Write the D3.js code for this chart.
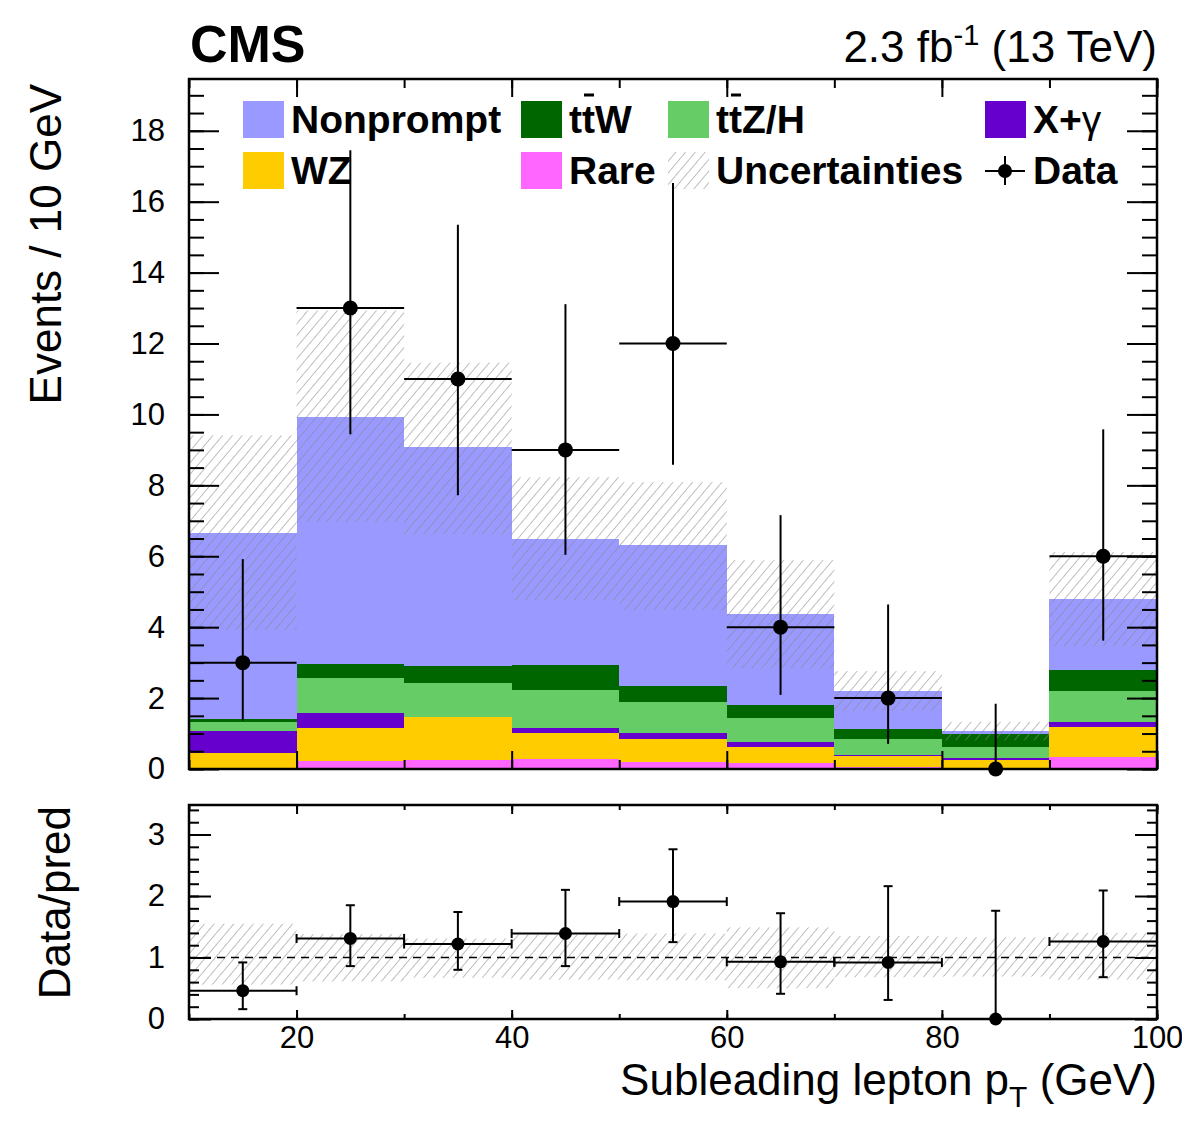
<!DOCTYPE html>
<html>
<head>
<meta charset="utf-8">
<script src="https://cdn.jsdelivr.net/npm/d3@7"></script>
<style>
  body { margin: 0; background: #fff; }
  svg { font-family: "Liberation Sans", Arial, Helvetica, sans-serif; }
</style>
</head>
<body>
<div id="chart"></div>
<script>
// bins of subleading lepton pT (GeV), low edges, width 10
var binLow = [10, 20, 30, 40, 50, 60, 70, 80, 90];
var binWidth = 10;

// stacked backgrounds, bottom to top
var rare      = [0.01, 0.23, 0.25, 0.27, 0.20, 0.16, 0.05, 0.03, 0.35];
var wz        = [0.45, 0.92, 1.21, 0.74, 0.65, 0.47, 0.32, 0.22, 0.84];
var xgamma    = [0.61, 0.43, 0.00, 0.15, 0.16, 0.13, 0.03, 0.05, 0.13];
var ttzh      = [0.26, 0.98, 0.96, 1.07, 0.88, 0.69, 0.45, 0.33, 0.88];
var ttw       = [0.08, 0.40, 0.48, 0.69, 0.45, 0.35, 0.29, 0.35, 0.59];
var nonprompt = [5.24, 6.98, 6.17, 3.58, 3.97, 2.56, 1.06, 0.09, 2.00];

// total prediction uncertainty band (absolute edges)
var uncHi = [9.41, 12.93, 11.46, 8.23, 8.09, 5.89, 2.76, 1.33, 6.12];
var uncLo = [3.92, 6.97, 6.62, 4.76, 4.48, 2.83, 1.64, 0.81, 3.46];

// observed data with error bar edges
var dataVal = [3, 13, 11, 9, 12, 4, 2, 0, 6];
var dataLo  = [1.37, 9.44, 7.72, 6.04, 8.58, 2.09, 0.71, 0, 3.62];
var dataHi  = [5.92, 17.45, 15.35, 13.11, 16.53, 7.16, 4.64, 1.84, 9.58];

// ratio panel
var ratioVal = [0.46, 1.31, 1.22, 1.39, 1.91, 0.93, 0.92, 0, 1.26];
var ratioLo  = [0.16, 0.86, 0.80, 0.86, 1.25, 0.41, 0.31, 0, 0.68];
var ratioHi  = [0.92, 1.85, 1.74, 2.10, 2.76, 1.72, 2.16, 1.76, 2.09];
var ratioUncHi = [1.55, 1.38, 1.31, 1.37, 1.39, 1.49, 1.35, 1.33, 1.40];
var ratioUncLo = [0.56, 0.61, 0.67, 0.64, 0.63, 0.50, 0.68, 0.69, 0.64];

var xTicks = [20, 40, 60, 80, 100];
var yTicks = [0, 2, 4, 6, 8, 10, 12, 14, 16, 18];
var rTicks = [0, 1, 2, 3];

var keys = ["rare", "wz", "xgamma", "ttzh", "ttw", "nonprompt"];
var colors = {
  rare: "#ff66ff", wz: "#ffcc00", xgamma: "#6600cc",
  ttzh: "#66cc66", ttw: "#006600", nonprompt: "#9999ff"
};

var svgWidth = 1182;
var svgHeight = 1121;
var left = 189, right = 1157;
var topY = 79, topB = 769;
var ratT = 805, ratB = 1019;

var svg = d3.select("#chart").append("svg")
  .attr("width", svgWidth)
  .attr("height", svgHeight);

var defs = svg.append("defs");
defs.append("pattern")
  .attr("id", "hatch")
  .attr("patternUnits", "userSpaceOnUse")
  .attr("width", 7.5)
  .attr("height", 7.5)
  .attr("patternTransform", "rotate(40)")
  .append("line")
  .attr("x1", 0).attr("y1", 0).attr("x2", 0).attr("y2", 7.5)
  .attr("stroke", "#8a8a8a")
  .attr("stroke-width", 1.1);

var x = d3.scaleLinear().domain([10, 100]).range([left, right]);
var y = d3.scaleLinear().domain([0, 19.46]).range([topB, topY]);
var yr = d3.scaleLinear().domain([0, 3.48]).range([ratB, ratT]);

// ---------- top panel: stacked histogram ----------
var table = binLow.map(function(b, i) {
  return { bin: b, rare: rare[i], wz: wz[i], xgamma: xgamma[i],
           ttzh: ttzh[i], ttw: ttw[i], nonprompt: nonprompt[i] };
});
var stacked = d3.stack().keys(keys)(table);

var stackGroup = svg.append("g").attr("shape-rendering", "crispEdges");
stackGroup.selectAll("g")
  .data(stacked)
  .enter()
  .append("g")
  .attr("fill", function(s) { return colors[s.key]; })
  .selectAll("rect")
  .data(function(s) { return s; })
  .enter()
  .append("rect")
  .attr("x", function(d) { return x(d.data.bin); })
  .attr("width", function(d) { return x(d.data.bin + binWidth) - x(d.data.bin); })
  .attr("y", function(d) { return y(d[1]); })
  .attr("height", function(d) { return y(d[0]) - y(d[1]); });

// uncertainty hatch
svg.append("g").selectAll("rect")
  .data(binLow)
  .enter()
  .append("rect")
  .attr("x", function(b) { return x(b); })
  .attr("width", function(b) { return x(b + binWidth) - x(b); })
  .attr("y", function(b, i) { return y(uncHi[i]); })
  .attr("height", function(b, i) { return y(uncLo[i]) - y(uncHi[i]); })
  .attr("fill", "url(#hatch)");

// data points
var dataGroup = svg.append("g").attr("stroke", "#000").attr("stroke-width", 2);
binLow.forEach(function(b, i) {
  var cx = x(b + binWidth / 2);
  if (dataVal[i] > 0) {
    dataGroup.append("line")
      .attr("x1", x(b)).attr("x2", x(b + binWidth))
      .attr("y1", y(dataVal[i])).attr("y2", y(dataVal[i]));
  }
  dataGroup.append("line")
    .attr("x1", cx).attr("x2", cx)
    .attr("y1", y(dataLo[i])).attr("y2", y(dataHi[i]));
  dataGroup.append("circle")
    .attr("cx", cx).attr("cy", y(dataVal[i]))
    .attr("r", 7.5).attr("fill", "#000").attr("stroke", "none");
});

// ---------- ratio panel ----------
svg.append("g").selectAll("rect")
  .data(binLow)
  .enter()
  .append("rect")
  .attr("x", function(b) { return x(b); })
  .attr("width", function(b) { return x(b + binWidth) - x(b); })
  .attr("y", function(b, i) { return yr(ratioUncHi[i]); })
  .attr("height", function(b, i) { return yr(ratioUncLo[i]) - yr(ratioUncHi[i]); })
  .attr("fill", "url(#hatch)");

svg.append("line")
  .attr("x1", left).attr("x2", right)
  .attr("y1", yr(1)).attr("y2", yr(1))
  .attr("stroke", "#000")
  .attr("stroke-width", 1.6)
  .attr("stroke-dasharray", "8,6");

var ratioGroup = svg.append("g").attr("stroke", "#000").attr("stroke-width", 2);
binLow.forEach(function(b, i) {
  var cx = x(b + binWidth / 2);
  var cy = yr(ratioVal[i]);
  if (ratioVal[i] > 0) {
    ratioGroup.append("line")
      .attr("x1", x(b)).attr("x2", x(b + binWidth))
      .attr("y1", cy).attr("y2", cy);
    [x(b), x(b + binWidth)].forEach(function(px) {
      ratioGroup.append("line")
        .attr("x1", px).attr("x2", px)
        .attr("y1", cy - 4.5).attr("y2", cy + 4.5);
    });
  }
  ratioGroup.append("line")
    .attr("x1", cx).attr("x2", cx)
    .attr("y1", yr(ratioLo[i])).attr("y2", yr(ratioHi[i]));
  [ratioLo[i], ratioHi[i]].forEach(function(v) {
    if (v > 0) {
      ratioGroup.append("line")
        .attr("x1", cx - 4.5).attr("x2", cx + 4.5)
        .attr("y1", yr(v)).attr("y2", yr(v));
    }
  });
  ratioGroup.append("circle")
    .attr("cx", cx).attr("cy", cy)
    .attr("r", 6.5).attr("fill", "#000").attr("stroke", "none");
});

// ---------- axes and frames ----------
function styleAxis(g) {
  g.select(".domain").remove();
  g.selectAll("line").attr("stroke", "#000").attr("stroke-width", 2);
  g.selectAll("text")
    .attr("font-family", "Liberation Sans, Arial, sans-serif")
    .attr("font-size", 31)
    .attr("fill", "#000");
}

function range(a, b, step) {
  var out = [];
  for (var v = a; v <= b + 1e-9; v += step) out.push(+v.toFixed(4));
  return out;
}

function addAxes(yScale, yTop, yBot, yMajorVals, yMinorVals, yMaj, yMin, xMaj, xMin, showX) {
  var xMinorVals = range(10, 100, 10);
  var xMajorVals = xTicks;

  // bottom
  var gb = svg.append("g").attr("transform", "translate(0," + yBot + ")");
  gb.call(d3.axisBottom(x).tickValues(xMinorVals).tickSize(-xMin).tickFormat(""));
  styleAxis(gb);
  var gb2 = svg.append("g").attr("transform", "translate(0," + yBot + ")");
  gb2.call(d3.axisBottom(x).tickValues(xMajorVals).tickSize(-xMaj).tickPadding(7)
    .tickFormat(showX ? d3.format("d") : ""));
  styleAxis(gb2);

  // top
  var gt = svg.append("g").attr("transform", "translate(0," + yTop + ")");
  gt.call(d3.axisTop(x).tickValues(xMinorVals).tickSize(-xMin).tickFormat(""));
  styleAxis(gt);
  var gt2 = svg.append("g").attr("transform", "translate(0," + yTop + ")");
  gt2.call(d3.axisTop(x).tickValues(xMajorVals).tickSize(-xMaj).tickFormat(""));
  styleAxis(gt2);

  // left
  var gl = svg.append("g").attr("transform", "translate(" + left + ",0)");
  gl.call(d3.axisLeft(yScale).tickValues(yMinorVals).tickSize(-yMin).tickFormat(""));
  styleAxis(gl);
  var gl2 = svg.append("g").attr("transform", "translate(" + left + ",0)");
  gl2.call(d3.axisLeft(yScale).tickValues(yMajorVals).tickSize(-yMaj).tickPadding(24)
    .tickFormat(d3.format("d")));
  styleAxis(gl2);

  // right
  var gr = svg.append("g").attr("transform", "translate(" + right + ",0)");
  gr.call(d3.axisRight(yScale).tickValues(yMinorVals).tickSize(-yMin).tickFormat(""));
  styleAxis(gr);
  var gr2 = svg.append("g").attr("transform", "translate(" + right + ",0)");
  gr2.call(d3.axisRight(yScale).tickValues(yMajorVals).tickSize(-yMaj).tickFormat(""));
  styleAxis(gr2);

  svg.append("rect")
    .attr("x", left).attr("y", yTop)
    .attr("width", right - left).attr("height", yBot - yTop)
    .attr("fill", "none")
    .attr("stroke", "#000")
    .attr("stroke-width", 2.5);
}

addAxes(y, topY, topB, yTicks, range(0, 19.4, 0.5), 30, 15, 18, 9, false);
addAxes(yr, ratT, ratB, rTicks, range(0, 3.4, 0.2), 22, 10, 9, 5, true);

// ---------- titles ----------
svg.append("text")
  .attr("x", 190).attr("y", 62)
  .attr("font-size", 52).attr("font-weight", "bold")
  .text("CMS");

var lumi = svg.append("text")
  .attr("x", right).attr("y", 62)
  .attr("text-anchor", "end")
  .attr("font-size", 44);
lumi.append("tspan").text("2.3 fb");
lumi.append("tspan").attr("font-size", 29).attr("dy", -17).text("-1");
lumi.append("tspan").attr("dy", 17).text(" (13 TeV)");

svg.append("text")
  .attr("transform", "translate(61,84) rotate(-90)")
  .attr("text-anchor", "end")
  .attr("font-size", 44)
  .text("Events / 10 GeV");

svg.append("text")
  .attr("transform", "translate(70,806) rotate(-90)")
  .attr("text-anchor", "end")
  .attr("font-size", 44)
  .text("Data/pred");

var xTitle = svg.append("text")
  .attr("x", right).attr("y", 1095)
  .attr("text-anchor", "end")
  .attr("font-size", 44);
xTitle.append("tspan").text("Subleading lepton p");
xTitle.append("tspan").attr("font-size", 30).attr("dy", 12).text("T");
xTitle.append("tspan").attr("dy", -12).text(" (GeV)");

// ---------- legend ----------
var legendCols = [243, 521, 668, 985];
var legendRows = [119, 170];
var legendEntries = [
  { label: "Nonprompt", key: "nonprompt", col: 0, row: 0 },
  { label: "ttW", key: "ttw", col: 1, row: 0, bar: 1 },
  { label: "ttZ/H", key: "ttzh", col: 2, row: 0, bar: 1 },
  { label: "X+", key: "xgamma", col: 3, row: 0, gamma: true },
  { label: "WZ", key: "wz", col: 0, row: 1 },
  { label: "Rare", key: "rare", col: 1, row: 1 },
  { label: "Uncertainties", key: "unc", col: 2, row: 1 },
  { label: "Data", key: "data", col: 3, row: 1 }
];

var legend = svg.append("g");
legendEntries.forEach(function(e) {
  var bx = legendCols[e.col];
  var cy = legendRows[e.row];
  if (e.key === "data") {
    var mx = bx + 20;
    legend.append("line").attr("x1", mx - 20).attr("x2", mx + 20)
      .attr("y1", cy + 1).attr("y2", cy + 1).attr("stroke", "#000").attr("stroke-width", 2);
    legend.append("line").attr("x1", mx).attr("x2", mx)
      .attr("y1", cy - 14).attr("y2", cy + 15).attr("stroke", "#000").attr("stroke-width", 2);
    legend.append("circle").attr("cx", mx).attr("cy", cy + 1).attr("r", 7).attr("fill", "#000");
  } else {
    legend.append("rect")
      .attr("x", bx).attr("y", cy - 18)
      .attr("width", 41).attr("height", 37)
      .attr("fill", e.key === "unc" ? "url(#hatch)" : colors[e.key]);
  }
  var t = legend.append("text")
    .attr("x", bx + 48).attr("y", cy + 14)
    .attr("font-size", 39).attr("font-weight", "bold")
    .text(e.label);
  if (e.gamma) {
    t.append("tspan").attr("font-weight", "normal").text("γ");
  }
  if (e.bar !== undefined) {
    var node = t.node();
    var x0 = node.getStartPositionOfChar(e.bar).x;
    var x1 = node.getEndPositionOfChar(e.bar).x;
    legend.append("line")
      .attr("x1", x0 + 2).attr("x2", x1 - 1)
      .attr("y1", cy - 24).attr("y2", cy - 24)
      .attr("stroke", "#000").attr("stroke-width", 3);
  }
});
</script>
</body>
</html>
